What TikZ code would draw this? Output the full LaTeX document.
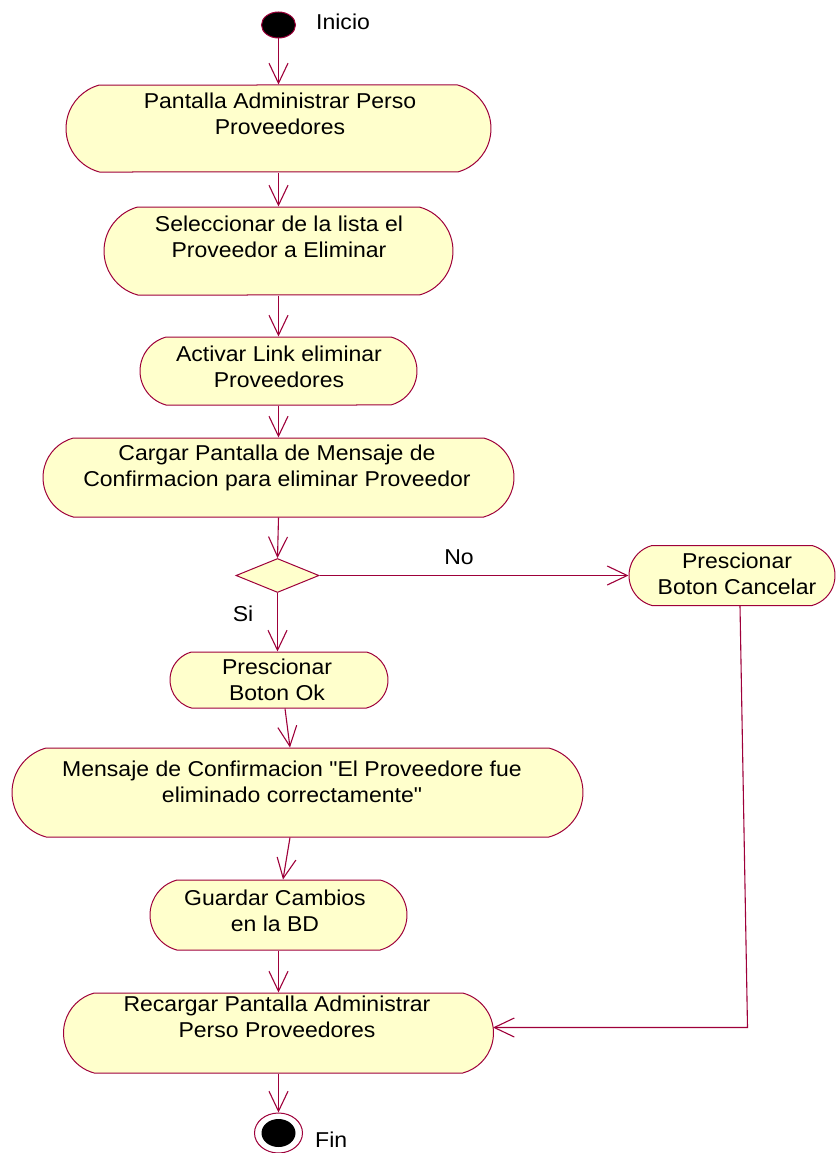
\documentclass[tikz,border=0pt]{standalone}
\usepackage{fontspec}
\setmainfont{Liberation Sans}[FakeStretch=1.07, Ligatures=TeXOff]
\usetikzlibrary{shapes.geometric,shapes.misc,arrows.meta,calc}
\definecolor{rose}{RGB}{158,0,58}
\definecolor{actfill}{RGB}{255,255,204}
\tikzset{
  act/.style={rounded rectangle, rounded rectangle arc length=150, draw=rose, fill=actfill, line width=1pt, inner sep=0pt},
  txt/.style={align=center, font=\fontsize{21.5}{26}\selectfont, inner sep=0pt},
  lbl/.style={font=\fontsize{21.5}{26}\selectfont, inner sep=0pt},
  flow/.style={draw=rose, line width=1.1pt, -{Straight Barb[length=20pt,width=19pt,line width=1.1pt]}},
}
\begin{document}
\begin{tikzpicture}[x=1pt,y=-1pt]
\useasboundingbox (0,0) rectangle (835,1153);
% start
\node[ellipse, draw=rose, fill=black, minimum width=34pt, minimum height=26pt, inner sep=0pt, line width=1pt] (ini) at (278.5,25) {};
\node[lbl, anchor=west] (iniL) at (316,22) {Inicio};
% activities
\node[act, minimum width=425pt, minimum height=87pt] (a1) at (278.5,128.5) {};
\node[txt] (a1t) at (280,114) {Pantalla Administrar Perso\\Proveedores};
\node[act, minimum width=349pt, minimum height=88pt] (a2) at (278.5,251) {};
\node[txt] (a2t) at (279,236.5) {Seleccionar de la lista el\\Proveedor a Eliminar};
\node[act, minimum width=277pt, minimum height=68pt] (a3) at (278.5,371) {};
\node[txt] (a3t) at (279,367) {Activar Link eliminar\\Proveedores};
\node[act, minimum width=471pt, minimum height=79pt] (a4) at (278.5,477.5) {};
\node[txt] (a4t) at (277,467.5) {Cargar Pantalla de Mensaje de\\Confirmacion para eliminar Proveedor};
% decision
\node[diamond, aspect=2.44, draw=rose, fill=actfill, minimum width=83pt, minimum height=34pt, inner sep=0pt, line width=1pt] (dec) at (277.5,575.5) {};
\node[act, minimum width=206pt, minimum height=60pt] (can) at (732,575.5) {};
\node[txt] (cant) at (737,574) {Prescionar\\Boton Cancelar};
\node[act, minimum width=218pt, minimum height=56pt] (ok) at (279,680) {};
\node[txt] (okt) at (277,679.5) {Prescionar\\Boton Ok};
\node[act, minimum width=571pt, minimum height=89pt] (msg) at (297.5,792.5) {};
\node[txt] (msgt) at (292,781.5) {Mensaje de Confirmacion "El Proveedore fue\\eliminado correctamente"};
\node[act, minimum width=257pt, minimum height=70pt] (bd) at (278.5,915) {};
\node[txt] (bdt) at (275,910.5) {Guardar Cambios\\en la BD};
\node[act, minimum width=430pt, minimum height=80pt] (rec) at (278.5,1033) {};
\node[txt] (rect) at (277,1016.5) {Recargar Pantalla Administrar\\Perso Proveedores};
% end
\node[ellipse, draw=rose, fill=white, minimum width=48pt, minimum height=40pt, inner sep=0pt, line width=1pt] (fin) at (278.5,1133) {};
\node[ellipse, fill=black, minimum width=34pt, minimum height=28pt, inner sep=0pt] (finIn) at (fin.center) {};
\node[lbl, anchor=west] (finL) at (315,1140) {Fin};
% labels
\node[lbl] (noL) at (459,557) {No};
\node[lbl] (siL) at (243,614) {Si};
% flows
\draw[flow] (ini.south) -- (a1.north);
\draw[flow] (a1.south) -- (a2.north);
\draw[flow] (a2.south) -- (a3.north);
\draw[flow] (a3.south) -- (a4.north);
\draw[flow] (a4.south) -- (dec.north);
\draw[flow] (dec.east) -- (can.west);
\draw[flow] (dec.south) -- (dec.south |- ok.north);
\draw[flow] ([xshift=6pt]ok.south) -- ([xshift=-7.5pt]msg.north);
\draw[flow] ([xshift=-7.5pt]msg.south) -- ([xshift=4.5pt]bd.north);
\draw[flow] (bd.south) -- (rec.north);
\draw[flow] (rec.south) -- (fin.north);
\coordinate (c1) at (747.5,1027.5);
\coordinate (c2) at (493,1027.5);
\draw[flow] ([xshift=8pt]can.south) -- (c1) -- (c2);
\end{tikzpicture}
\end{document}
